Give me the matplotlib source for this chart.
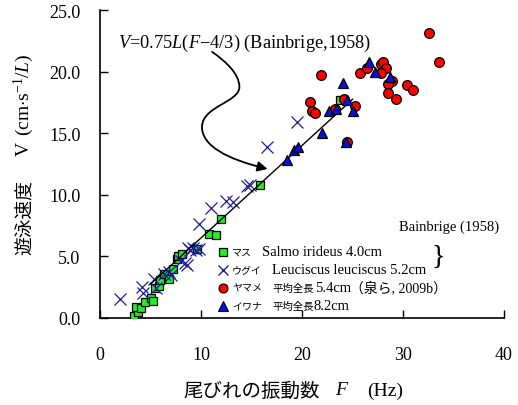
import numpy as np
import matplotlib.pyplot as plt
from matplotlib.path import Path
from matplotlib.patches import FancyArrowPatch

plt.rcParams['mathtext.fontset'] = 'custom'
plt.rcParams['mathtext.rm'] = 'Liberation Serif'
plt.rcParams['mathtext.it'] = 'Liberation Serif:italic'
plt.rcParams['font.family'] = 'Liberation Serif'

SERIF = 'Liberation Serif'
CJK = ['Noto Sans CJK JP']

# Salmo irideus (マス) : tail-beat frequency F [Hz], speed V [L/s]
masu_f = [3.4, 3.8, 3.6, 4.1, 4.5, 5.0, 5.2, 5.4, 5.8, 5.9, 6.3, 6.8, 7.2, 7.6,
          7.75, 8.1, 9.6, 10.8, 11.5, 12.0, 15.8, 23.8]
masu_v = [0.2, 0.5, 0.9, 0.8, 1.3, 1.6, 1.4, 2.4, 2.6, 3.1, 3.6, 3.2, 4.0, 4.8,
          5.0, 5.2, 5.6, 6.8, 6.7, 8.0, 10.8, 17.7]

# Leuciscus leuciscus (ウグイ)
ugui_f = [2.0, 4.2, 4.3, 5.3, 5.5, 6.3, 6.8, 7.0, 8.0, 8.4, 8.6, 8.7, 8.9, 9.2,
          9.5, 9.8, 9.8, 11.0, 12.5, 13.2, 14.6, 14.85, 16.5, 19.5]
ugui_v = [1.55, 2.5, 2.0, 3.2, 2.4, 3.6, 3.7, 3.5, 4.6, 4.5, 4.3, 5.7, 5.5, 5.7,
          5.5, 5.6, 7.6, 8.9, 9.5, 9.4, 10.7, 10.8, 13.9, 15.9]

# ヤマメ
yamame_f = [21.9, 20.8, 21.0, 21.3, 23.3, 24.2, 25.2, 24.5, 25.7, 26.4, 27.8,
            28.0, 28.3, 27.8, 28.9, 28.5, 28.5, 29.3, 30.4, 31.0, 32.6, 33.6]
yamame_v = [19.75, 17.5, 16.8, 16.6, 17.0, 17.8, 17.2, 14.3, 19.9, 20.3, 20.6,
            20.8, 20.3, 19.9, 19.2, 19.0, 18.3, 17.8, 18.9, 18.5, 23.1, 20.8]

# イワナ
iwana_f = [18.5, 19.2, 19.6, 22.0, 22.7, 23.4, 24.4, 24.5, 25.0, 24.1, 26.6,
           27.2, 28.7]
iwana_v = [12.8, 13.6, 13.9, 15.0, 16.8, 17.0, 14.3, 17.7, 16.8, 19.05, 20.8,
           20.0, 19.6]

# Bainbrige (1958): V = 0.75 L (F - 4/3)
fit_range = [5.0, 25.0]

fig = plt.figure(figsize=(5.18, 4.06), dpi=100)
W, H = 518, 406
ax = fig.add_axes([100 / W, 1 - 319 / H, 404 / W, 308 / H])

ax.plot(masu_f, masu_v, 's', ms=6, mfc='#22ee22', mec='black', mew=0.9, zorder=3)
ax.plot(ugui_f, ugui_v, 'x', ms=8, color='#1c1c9c', mew=0.9, zorder=3)
fit_f = np.array(fit_range)
ax.plot(fit_f, 0.75 * (fit_f - 4 / 3), color='black', lw=1.0, zorder=4)
ax.plot(yamame_f, yamame_v, 'o', ms=7, mfc='#ff0000', mec='black', mew=0.9, zorder=5)
ax.plot(iwana_f, iwana_v, '^', ms=7.5, mfc='#0a10e0', mec='black', mew=0.9, zorder=6)

ax.set_xlim(0, 40)
ax.set_ylim(0, 25)
ax.set_xticks([0, 10, 20, 30, 40])
ax.set_yticks([0, 5, 10, 15, 20, 25])
ax.set_yticklabels(['0.0', '5.0', '10.0', '15.0', '20.0', '25.0'])
ax.spines['top'].set_visible(False)
ax.spines['right'].set_visible(False)
ax.spines['left'].set_linewidth(1.2)
ax.spines['bottom'].set_linewidth(1.2)
ax.tick_params(axis='both', direction='in', length=6, width=1.0, labelsize=13)
ax.tick_params(axis='x', pad=20)
ax.tick_params(axis='y', pad=14)

# equation + curly arrow
ax.text(118 / W, 1 - 43 / H, r'$V$=0.75$L$($F$$-$4/3) (Bainbrige,1958)',
        transform=fig.transFigure, fontsize=13.2, ha='left', va='center')
arrow_pts = [(11.1, 21.6), (12.5, 20.8), (13.8, 19.8), (13.8, 18.75),
             (13.8, 17.5), (10.1, 17.2), (10.1, 15.5),
             (10.1, 14.0), (12.5, 12.9), (16.6, 12.1)]
codes = [Path.MOVETO] + [Path.CURVE4] * 9
arr = FancyArrowPatch(path=Path(arrow_pts, codes), arrowstyle='-|>,head_length=6,head_width=3',
                      color='black', lw=1.3, zorder=7)
ax.add_patch(arr)

# legend (drawn by hand)
rows_y = [252.7, 271, 288.5, 306.7]
markers = [dict(marker='s', ms=6, mfc='#22ee22', mec='black', mew=0.9),
           dict(marker='x', ms=7, color='#1c1c9c', mew=1.0),
           dict(marker='o', ms=6.5, mfc='#ff0000', mec='black', mew=0.8),
           dict(marker='^', ms=6.5, mfc='#0a10e0', mec='black', mew=0.8)]
kana = ['マス', 'ウグイ', 'ヤマメ', 'イワナ']
for y, mk, k in zip(rows_y, markers, kana):
    fig.lines.append(plt.Line2D([223 / W], [1 - y / H], transform=fig.transFigure, **mk))
    fig.text(232 / W, 1 - y / H, k, family=CJK, fontsize=7.2, ha='left', va='center')

fig.text(262 / W, 1 - rows_y[0] / H, 'Salmo irideus 4.0cm', fontsize=10.5, va='center')
fig.text(272 / W, 1 - rows_y[1] / H, 'Leuciscus leuciscus 5.2cm', fontsize=10.5, va='center')
fig.text(272 / W, 1 - rows_y[2] / H, '平均全長', family=CJK, fontsize=7.5, va='center')
fig.text(315 / W, 1 - rows_y[2] / H, '5.4cm', fontsize=10.5, va='center')
fig.text(350 / W, 1 - rows_y[2] / H, '（泉ら, 2009b）', family=[SERIF] + CJK,
         fontsize=10, va='center')
fig.text(272 / W, 1 - rows_y[3] / H, '平均全長', family=CJK, fontsize=7.5, va='center')
fig.text(313 / W, 1 - rows_y[3] / H, '8.2cm', fontsize=10.5, va='center')
fig.text(499 / W, 1 - 227 / H, 'Bainbrige (1958)', fontsize=10.5, ha='right', va='center')
fig.text(438 / W, 1 - 257 / H, '}', fontsize=20, ha='center', va='center')

# axis labels
fig.text(25 / W, 1 - 218 / H, '遊泳速度', family=CJK, fontsize=13.5, rotation=90,
         ha='center', va='center')
fig.text(24 / W, 1 - 149 / H, 'V', fontsize=14, rotation=90, ha='center', va='center')
fig.text(24 / W, 1 - 95 / H, r'(cm$\cdot$s$^{-1}$/$L$)', fontsize=14, rotation=90,
         ha='center', va='center')
fig.text(252 / W, 1 - 391 / H, '尾びれの振動数', family=CJK, fontsize=14,
         ha='center', va='center')
fig.text(342 / W, 1 - 391 / H, '$F$', fontsize=14, ha='center', va='center')
fig.text(385 / W, 1 - 391 / H, '(Hz)', fontsize=14, ha='center', va='center')

fig.savefig('out.png', dpi=100)
